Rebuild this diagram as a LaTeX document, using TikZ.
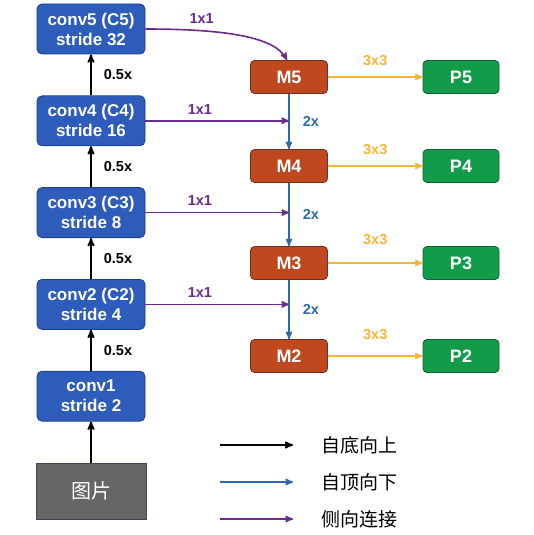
\documentclass[tikz,border=0pt]{standalone}
\usepackage{fontspec}
\setmainfont{Liberation Sans}
\newfontfamily\cjk{Noto Sans CJK SC}
\usepackage{tikz}
\usetikzlibrary{positioning,arrows}
\definecolor{convblue}{RGB}{45,92,186}
\definecolor{convline}{RGB}{30,62,125}
\definecolor{mergered}{RGB}{192,72,30}
\definecolor{mergeline}{RGB}{110,50,35}
\definecolor{predgreen}{RGB}{18,155,72}
\definecolor{predline}{RGB}{12,100,50}
\definecolor{imggray}{RGB}{102,102,102}
\definecolor{imgline}{RGB}{60,70,90}
\definecolor{upblack}{RGB}{0,0,0}
\definecolor{downblue}{RGB}{45,105,170}
\definecolor{latpurple}{RGB}{106,42,142}
\definecolor{smoothorange}{RGB}{246,180,54}
\tikzset{
  fpn/.style={>=stealth',
    x=1pt, y=-1pt,
    node distance=41pt,
    line width=1.6pt},
 conv/.style = {rectangle,rounded corners=5pt,draw=convline,line width=0.8pt,fill=convblue,
   text=white,minimum width=108pt,minimum height=50pt,align=center,inner sep=2pt,
   font=\bfseries\fontsize{17}{20}\selectfont},
 image/.style = {rectangle,draw=imgline,line width=0.8pt,fill=imggray,text=white,
   minimum width=110pt,minimum height=56pt,font=\cjk\fontsize{20}{24}\selectfont},
 merge/.style = {rectangle,rounded corners=4pt,draw=mergeline,line width=0.8pt,fill=mergered,
   text=white,minimum width=77pt,minimum height=33pt,inner sep=2pt,
   font=\bfseries\fontsize{18}{21}\selectfont},
 pred/.style = {merge,draw=predline,fill=predgreen,minimum width=76pt},
 lbl/.style={inner sep=1pt,font=\bfseries\fontsize{14.5}{17}\selectfont},
 legend/.style={inner sep=0pt,anchor=west,font=\cjk\fontsize{19}{22}\selectfont},
 bottom up/.style={->,upblack,line width=1.8pt},
 top down/.style={->,downblue},
 lateral/.style={->,latpurple},
 smooth out/.style={->,smoothorange}}
\begin{document}
\begin{tikzpicture}[fpn]
      \useasboundingbox (0,0) rectangle (534,535);
      % backbone, bottom to top
      \node[image] (img) at (91,491) {图片};
      \node[conv] (c1) [above =of img] {conv1\\stride 2};
      \node[conv] (c2) [above =of c1] {conv2 (C2)\\stride 4};
      \node[conv] (c3) [above =of c2] {conv3 (C3)\\stride 8};
      \node[conv] (c4) [above =of c3] {conv4 (C4)\\stride 16};
      \node[conv] (c5) [above =of c4] {conv5 (C5)\\stride 32};
      % merged maps and predictions
      \node[merge] (m5) at (289,77) {M5};
      \node[merge] (m4) at (289,166) {M4};
      \node[merge] (m3) at (289,263) {M3};
      \node[merge] (m2) at (289,356) {M2};
      \node[pred] (p5) at (461,77) {P5};
      \node[pred] (p4) at (461,166) {P4};
      \node[pred] (p3) at (461,263) {P3};
      \node[pred] (p2) at (461,356) {P2};
      \draw[bottom up] (img) to (c1);
      \draw[bottom up] (c1) to node[lbl,right=11pt] {0.5x} (c2);
      \draw[bottom up] (c2) to node[lbl,right=11pt] {0.5x} (c3);
      \draw[bottom up] (c3) to node[lbl,right=11pt] {0.5x} (c4);
      \draw[bottom up] (c4) to node[lbl,right=11pt] {0.5x} (c5);
      \draw[top down] (m5) to node[lbl,downblue,right=12pt] {2x} (m4);
      \draw[top down] (m4) to node[lbl,downblue,right=12pt] {2x} (m3);
      \draw[top down] (m3) to node[lbl,downblue,right=12pt] {2x} (m2);
      \draw[lateral] (c5.east) .. controls +(85,0) and +(-12,-22) .. node[lbl,latpurple,pos=0.25,above=5pt] {1x1} ([xshift=-2pt]m5.north);
      \draw[lateral] (c4.east) -- node[lbl,latpurple,pos=0.38,above=5pt] {1x1} (c4.east -| m5.south);
      \draw[lateral] (c3.east) -- node[lbl,latpurple,pos=0.38,above=5pt] {1x1} (c3.east -| m5.south);
      \draw[lateral] (c2.east) -- node[lbl,latpurple,pos=0.38,above=5pt] {1x1} (c2.east -| m5.south);
      \draw[smooth out] (m5) to node[lbl,smoothorange,above=10pt] {3x3} (p5);
      \draw[smooth out] (m4) to node[lbl,smoothorange,above=10pt] {3x3} (p4);
      \draw[smooth out] (m3) to node[lbl,smoothorange,above=17pt] {3x3} (p3);
      \draw[smooth out] (m2) to node[lbl,smoothorange,above=15pt] {3x3} (p2);
      % legend
      \coordinate (la1) at (220,445); \coordinate (lb1) at (293,445);
      \coordinate (la2) at (220,482); \coordinate (lb2) at (293,482);
      \coordinate (la3) at (220,519); \coordinate (lb3) at (293,519);
      \draw[bottom up] (la1) -- (lb1);
      \draw[top down] (la2) -- (lb2);
      \draw[lateral] (la3) -- (lb3);
      \node[legend] (lt1) [right =28pt of lb1] {自底向上};
      \node[legend] (lt2) [right =28pt of lb2] {自顶向下};
      \node[legend] (lt3) [right =28pt of lb3] {侧向连接};
    \end{tikzpicture}
\end{document}
